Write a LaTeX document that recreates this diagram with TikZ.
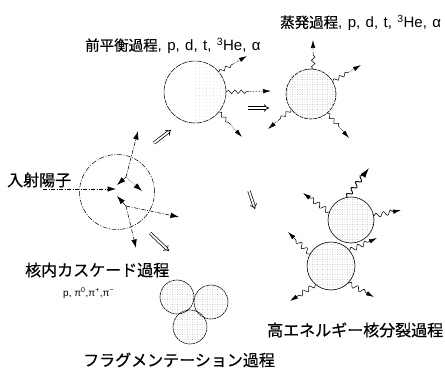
\documentclass[tikz,border=0pt]{standalone}
\usepackage{fontspec}
\setmainfont{Liberation Sans}
\newfontfamily\jp{Noto Sans CJK JP}[FakeBold=0.5]
\usetikzlibrary{arrows.meta,decorations.pathmorphing,calc,patterns.meta}
% spaced comma for the particle lists
\newcommand\csep{,\hspace{0.36em}}

\begin{document}
\begin{tikzpicture}[x=1pt,y=-1pt,
  nucleus/.style={circle, inner sep=0pt, draw, line width=0.6pt},
  stipple/.style={pattern={Dots[radius=0.4pt,distance=2.5pt]}, pattern color=black!38},
  halfstipple/.style={path picture={\fill[pattern={Dots[radius=0.35pt,distance=3.5pt]}, pattern color=black!22]
      (path picture bounding box.north) rectangle (path picture bounding box.south east);}},
  wavy/.style={decorate, decoration={snake, amplitude=1.8pt, segment length=6.5pt}, line width=0.5pt},
  wavytip/.style={decorate, decoration={snake, amplitude=2.3pt, segment length=7.5pt, post length=8pt},
    line width=0.55pt, -{Latex[length=8pt,width=4.5pt]}},
  tipdot/.style={densely dotted, line width=0.55pt, -{Latex[length=8pt,width=4.5pt]}},
  cas/.style={dash pattern=on 4pt off 1.5pt on 1pt off 1.5pt, line width=0.55pt},
  head/.style={-{Latex[length=8.5pt,width=5.5pt]}},
  hollow/.style={double, double distance=1.8pt, line width=0.7pt, -{Implies}},
  big/.style={font=\fontsize{16}{18}\selectfont\jp},
  title/.style={font=\fontsize{15}{17}\selectfont},
  small/.style={font=\fontsize{10}{12}\selectfont}
]
\useasboundingbox (0,0) rectangle (445,372);

% ---- labels ----
\node[title, anchor=west, inner sep=0pt] (ltpre) at (85,46)
  {{\fontsize{14.5}{17}\selectfont\jp 前平衡過程}\csep p\csep d\csep t\csep \textsuperscript{3}He\csep α};
\node[title, anchor=west, inner sep=0pt] (lteva) at (280,23)
  {{\fontsize{14.5}{17}\selectfont\jp 蒸発過程}\csep p\csep d\csep t\csep \textsuperscript{3}He\csep α};
\node[big, anchor=west, inner sep=0pt] (linc) at (7,180) {入射陽子};
\node[big, anchor=west, inner sep=0pt] (lcas) at (25,270) {核内カスケード過程};
\node[small, anchor=west, inner sep=0pt] (lpi) at (63,293) {p, π\textsuperscript{0},π\textsuperscript{+},π\textsuperscript{−}};
\node[big, anchor=west, inner sep=0pt] (lfis) at (267,330) {高エネルギー核分裂過程};
\node[big, anchor=west, inner sep=0pt] (lfrag) at (83,360) {フラグメンテーション過程};

% ---- incident nucleus and intranuclear cascade ----
\node[nucleus, line width=0.5pt, dash pattern=on 5pt off 1.5pt on 1pt off 1.5pt, minimum size=75pt] (inc) at (117,192) {};
\coordinate (ins) at (43,189);
\coordinate (hit) at (116,189);
\draw[cas, head] (ins) -- (hit);

\coordinate (P) at (126,177);
\coordinate (pu) at (138,131);
\coordinate (pa) at (117,185);
\coordinate (pb) at (142,191);
\draw[cas, head] (P) -- (pu);
\draw[line width=0.5pt, head] (P) -- (pa);
\draw[densely dotted, line width=0.5pt, head] (P) -- (pb);

\coordinate (Q) at (126,206);
\coordinate (qa) at (117,196);
\coordinate (qr) at (179,217);
\coordinate (qd) at (136,248);
\draw[line width=0.5pt, head] (Q) -- (qa);
\draw[cas, head] (Q) -- (qr);
\draw[cas, head] (Q) -- (qd);

% ---- process arrows ----
\coordinate (h1a) at (154,143); \coordinate (h1b) at (171,130);
\coordinate (h2a) at (248,108); \coordinate (h2b) at (269,108);
\coordinate (h3a) at (150,233); \coordinate (h3b) at (169,251);
\coordinate (h4a) at (249,191); \coordinate (h4b) at (255,209);
\draw[hollow] (h1a) -- (h1b);
\draw[hollow] (h2a) -- (h2b);
\draw[hollow] (h3a) -- (h3b);
\draw[hollow] (h4a) -- (h4b);

% ---- pre-equilibrium nucleus ----
\node[nucleus, line width=0.55pt, dash pattern=on 6pt off 1pt, halfstipple, minimum size=62pt] (pre) at (195,92) {};
\coordinate (pt1) at (247,56);
\coordinate (pt2) at (271,91);
\coordinate (pt3) at (242,137);
\coordinate (pm1) at ($(pre.40)!0.5!(pt1)$);
\coordinate (pm2) at ($(pre.0)!0.5!(pt2)$);
\coordinate (pm3) at ($(pre.-40)!0.5!(pt3)$);
\draw[wavy] (pre.40) -- (pm1);  \draw[tipdot] (pm1) -- (pt1);
\draw[wavy] (pre.0) -- (pm2);   \draw[tipdot] (pm2) -- (pt2);
\draw[wavy] (pre.-40) -- (pm3); \draw[tipdot] (pm3) -- (pt3);

% ---- evaporation ----
\node[nucleus, stipple, dash pattern=on 4pt off 0.8pt, minimum size=50pt] (eva) at (311,94) {};
\coordinate (et1) at (313,40);
\coordinate (et2) at (361,65);
\coordinate (et3) at (268,129);
\coordinate (et4) at (349,138);
\coordinate (em1) at ($(eva.85)!0.55!(et1)$);
\coordinate (em2) at ($(eva.30)!0.55!(et2)$);
\coordinate (em3) at ($(eva.-142)!0.55!(et3)$);
\coordinate (em4) at ($(eva.-50)!0.55!(et4)$);
\draw[wavy] (eva.85) -- (em1);   \draw[tipdot] (em1) -- (et1);
\draw[wavy] (eva.30) -- (em2);   \draw[tipdot] (em2) -- (et2);
\draw[wavy] (eva.-142) -- (em3); \draw[tipdot] (em3) -- (et3);
\draw[wavy] (eva.-50) -- (em4);  \draw[tipdot] (em4) -- (et4);

% ---- high-energy fission ----
\node[nucleus, stipple, minimum size=46pt] (fu) at (351,220) {};
\node[nucleus, stipple, minimum size=48pt] (fl) at (331,266) {};
\coordinate (c1) at (369,168);
\coordinate (c2) at (303,193);
\coordinate (c3) at (401,210);
\coordinate (c4) at (377,238);
\coordinate (c5) at (288,232);
\coordinate (c6) at (290,301);
\coordinate (c7) at (374,297);
\draw[wavytip, line width=0.9pt, -{Latex[length=10pt,width=6pt]}] (fu.100) -- (c1);
\draw[wavytip] (fu.160) -- (c2);
\draw[wavytip] (fu.10) -- (c3);
\draw[wavytip] (fl.40) -- (c4);
\draw[wavytip] (fl.150) -- (c5);
\draw[wavytip] (fl.-130) -- (c6);
\draw[wavytip] (fl.-45) -- (c7);

% ---- fragmentation ----
\node[nucleus, stipple, dash pattern=on 2pt off 0.6pt, minimum size=34pt] (fa) at (177,297) {};
\node[nucleus, stipple, dash pattern=on 2pt off 0.6pt, minimum size=34pt] (fb) at (211,302) {};
\node[nucleus, stipple, dash pattern=on 2pt off 0.6pt, minimum size=34pt] (fc) at (190,327) {};
\end{tikzpicture}
\end{document}
